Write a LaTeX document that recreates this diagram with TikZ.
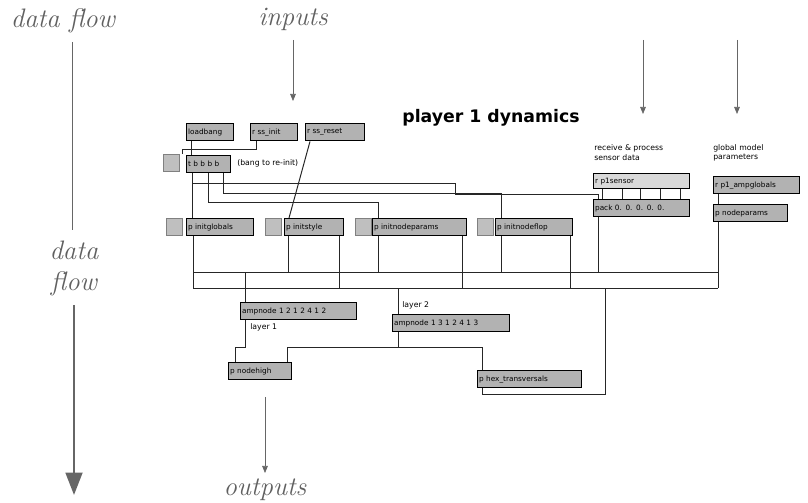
\documentclass[tikz,border=0pt]{standalone}
\usepackage{fontspec}
\setsansfont{DejaVu Sans}
\usetikzlibrary{arrows.meta, positioning, calc, backgrounds}

\newlength{\pxunit}
\setlength{\pxunit}{0.025cm}

\tikzset{
  maxobj/.style = {draw=black, line width=1pt, fill=gray!60, anchor=north west, inner sep=1pt,
                   font=\fontsize{5.2}{6}\sffamily, align=left, minimum height=17\pxunit},
  rcvobj/.style = {maxobj, fill=gray!30},
  tgl/.style = {draw=gray, fill=gray!50, anchor=north west, inner sep=0pt,
                minimum width=16\pxunit, minimum height=17\pxunit},
  lbl/.style = {anchor=west, inner sep=0pt, font=\fontsize{5.5}{6.5}\sffamily},
  flowtext/.style = {text=gray!75!black, font=\fontsize{19}{22}\selectfont\itshape, inner sep=0pt},
  flowline/.style = {draw=gray!80!black, line width=0.5pt},
  cord/.style = {draw=black!85, line width=0.7pt}
}

\begin{document}
\begin{tikzpicture}[x=0.025cm, y=-0.025cm]
\useasboundingbox (0,0) rectangle (808,503);

% side notes
\node (dfTop) [flowtext] at (63,21) {data flow};
\node (dfMid) [flowtext, align=center] at (74,268) {data\\flow};
\node (inputs) [flowtext] at (293,19) {inputs};
\node (outputs) [flowtext] at (265,490) {outputs};
\node (title) [font=\fontsize{12.3}{14}\sffamily\bfseries] at (491,118) {player 1 dynamics};

\coordinate (dfA) at (72,42);
\coordinate (dfB) at (72,230);
\coordinate (dfC) at (74,305);
\coordinate (dfD) at (74,495);
\coordinate (inA) at (293,40);
\coordinate (inB) at (293,101);
\coordinate (snA) at (643,40);
\coordinate (snB) at (643,114);
\coordinate (glA) at (737,40);
\coordinate (glB) at (737,114);
\coordinate (outA) at (265,397);
\coordinate (outB) at (265,473);

\draw[flowline] (dfA) -- (dfB);
\draw[flowline, line width=1.6pt, -{Triangle[length=16pt, width=12pt]}] (dfC) -- (dfD);
\draw[flowline, -{Triangle[length=5pt, width=4pt]}] (inA) -- (inB);
\draw[flowline, -{Triangle[length=5pt, width=4pt]}] (snA) -- (snB);
\draw[flowline, -{Triangle[length=5pt, width=4pt]}] (glA) -- (glB);
\draw[flowline, -{Triangle[length=5pt, width=4pt]}] (outA) -- (outB);

% patch objects
\node (loadbang) [maxobj, text width=44\pxunit] at (186,123) {loadbang};
\node (ssinit) [maxobj, text width=44\pxunit] at (250,123) {r ss\_init};
\node (ssreset) [maxobj, text width=56\pxunit] at (305,123) {r ss\_reset};
\node (bang0) [tgl] at (163,154) {};
\node (tbb) [maxobj, text width=41\pxunit] at (186,155) {t b b b b};
\node (reinit) [lbl] at (237,163) {(bang to re-init)};

\node (tog1) [tgl] at (166,218) {};
\node (initglobals) [maxobj, text width=64\pxunit] at (186,218) {p initglobals};
\node (tog2) [tgl] at (265,218) {};
\node (initstyle) [maxobj, text width=56\pxunit] at (284,218) {p initstyle};
\node (tog3) [tgl] at (355,218) {};
\node (initnodeparams) [maxobj, text width=91\pxunit] at (372,218) {p initnodeparams};
\node (tog4) [tgl] at (477,218) {};
\node (initnodeflop) [maxobj, text width=74\pxunit] at (495,218) {p initnodeflop};

\node (sensorlbl) [lbl] at (594,148) {receive \& process};
\node (sensorlbl2) [lbl] at (594,158) {sensor data};
\node (p1sensor) [rcvobj, text width=93\pxunit, minimum height=15\pxunit] at (593,173) {r p1sensor};
\node (pack) [maxobj, text width=93\pxunit] at (593,199) {pack 0. 0. 0. 0. 0.};

\node (globallbl) [lbl] at (713,148) {global model};
\node (globallbl2) [lbl] at (713,158) {parameters};
\node (ampglobals) [maxobj, text width=83\pxunit] at (713,176) {r p1\_ampglobals};
\node (nodeparams) [maxobj, text width=71\pxunit] at (713,204) {p nodeparams};

\node (ampnodeA) [maxobj, text width=113\pxunit] at (240,302) {ampnode 1 2 1 2 4 1 2};
\node (layerA) [lbl] at (250,327) {layer 1};
\node (layerB) [lbl] at (402,305) {layer 2};
\node (ampnodeB) [maxobj, text width=114\pxunit] at (392,314) {ampnode 1 3 1 2 4 1 3};
\node (nodehigh) [maxobj, text width=60\pxunit] at (228,362) {p nodehigh};
\node (hextrans) [maxobj, text width=101\pxunit] at (477,370) {p hex\_transversals};

% the two busses
\coordinate (busAl) at (193,272);
\coordinate (busAr) at (718,272);
\coordinate (busBl) at (193,288);
\coordinate (busBr) at (718,288);

\begin{scope}[on background layer]
  \draw[cord] (busAl) -- (busAr);
  \draw[cord] (busBl) -- (busBr);

  \draw[cord] ($(loadbang.south west)+(5,0)$) -- ($(tbb.north west)+(5,0)$);
  \draw[cord] ($(ssinit.south west)+(6,0)$) -- ++(0,8) -| ($(bang0.north east)+(3,0)$);
  \draw[cord] ($(ssreset.south west)+(5,0)$) -- ($(initstyle.north west)+(5,0)$);

  \draw[cord] ($(tbb.south west)+(6,0)$) -- ($(initglobals.north west)+(6,0)$);
  \draw[cord] ($(tbb.south west)+(6,10)$) -- ++(263,0) -- ++(0,11) -| ($(pack.north west)+(5,0)$);
  \draw[cord] ($(tbb.south west)+(22,0)$) |- ($(initnodeparams.north west)+(6,-16)$)
              -- ($(initnodeparams.north west)+(6,0)$);
  \draw[cord] ($(tbb.south west)+(37,0)$) |- ($(initnodeflop.north west)+(6,-25)$)
              -- ($(initnodeflop.north west)+(6,0)$);

  \foreach \dx in {9,29,47,67,87}
    \draw[cord] ($(p1sensor.south west)+(\dx,0)$) -- ($(pack.north west)+(\dx,0)$);
  \draw[cord] ($(ampglobals.south west)+(5,0)$) -- ($(nodeparams.north west)+(5,0)$);

  \draw[cord] ($(initglobals.south west)+(7,0)$) -- (busBl);
  \draw[cord] ($(initstyle.south west)+(4,0)$) -- ($(initstyle.south west |- busAl)+(4,0)$);
  \draw[cord] ($(initstyle.south east)+(-5,0)$) -- ($(initstyle.south east |- busBl)+(-5,0)$);
  \draw[cord] ($(initnodeparams.south west)+(6,0)$) -- ($(initnodeparams.south west |- busAl)+(6,0)$);
  \draw[cord] ($(initnodeparams.south east)+(-5,0)$) -- ($(initnodeparams.south east |- busBl)+(-5,0)$);
  \draw[cord] ($(initnodeflop.south west)+(6,0)$) -- ($(initnodeflop.south west |- busAl)+(6,0)$);
  \draw[cord] ($(initnodeflop.south east)+(-3,0)$) -- ($(initnodeflop.south east |- busBl)+(-3,0)$);
  \draw[cord] ($(pack.south west)+(5,0)$) -- ($(pack.south west |- busAl)+(5,0)$);
  \draw[cord] ($(nodeparams.south west)+(5,0)$) -- (busBr);

  \draw[cord] ($(ampnodeA.north west)+(5,0)$) -- ($(ampnodeA.north west |- busAl)+(5,0)$);
  \draw[cord] ($(ampnodeB.north west)+(6,0)$) -- ($(ampnodeB.north west |- busBl)+(6,0)$);

  \draw[cord] ($(ampnodeA.south west)+(5,0)$) -- ++(0,27) -| ($(nodehigh.north west)+(7,0)$);
  \draw[cord] ($(ampnodeB.south west)+(6,0)$) -- ++(0,15) -| ($(nodehigh.north east)+(-5,0)$);
  \draw[cord] ($(ampnodeB.south west)+(6,15)$) -| ($(hextrans.north west)+(5,0)$);
  \draw[cord] ($(hextrans.south west)+(5,0)$) -- ++(0,6) -| ($(pack.south west |- busBl)+(12,0)$);
\end{scope}
\end{tikzpicture}
\end{document}
